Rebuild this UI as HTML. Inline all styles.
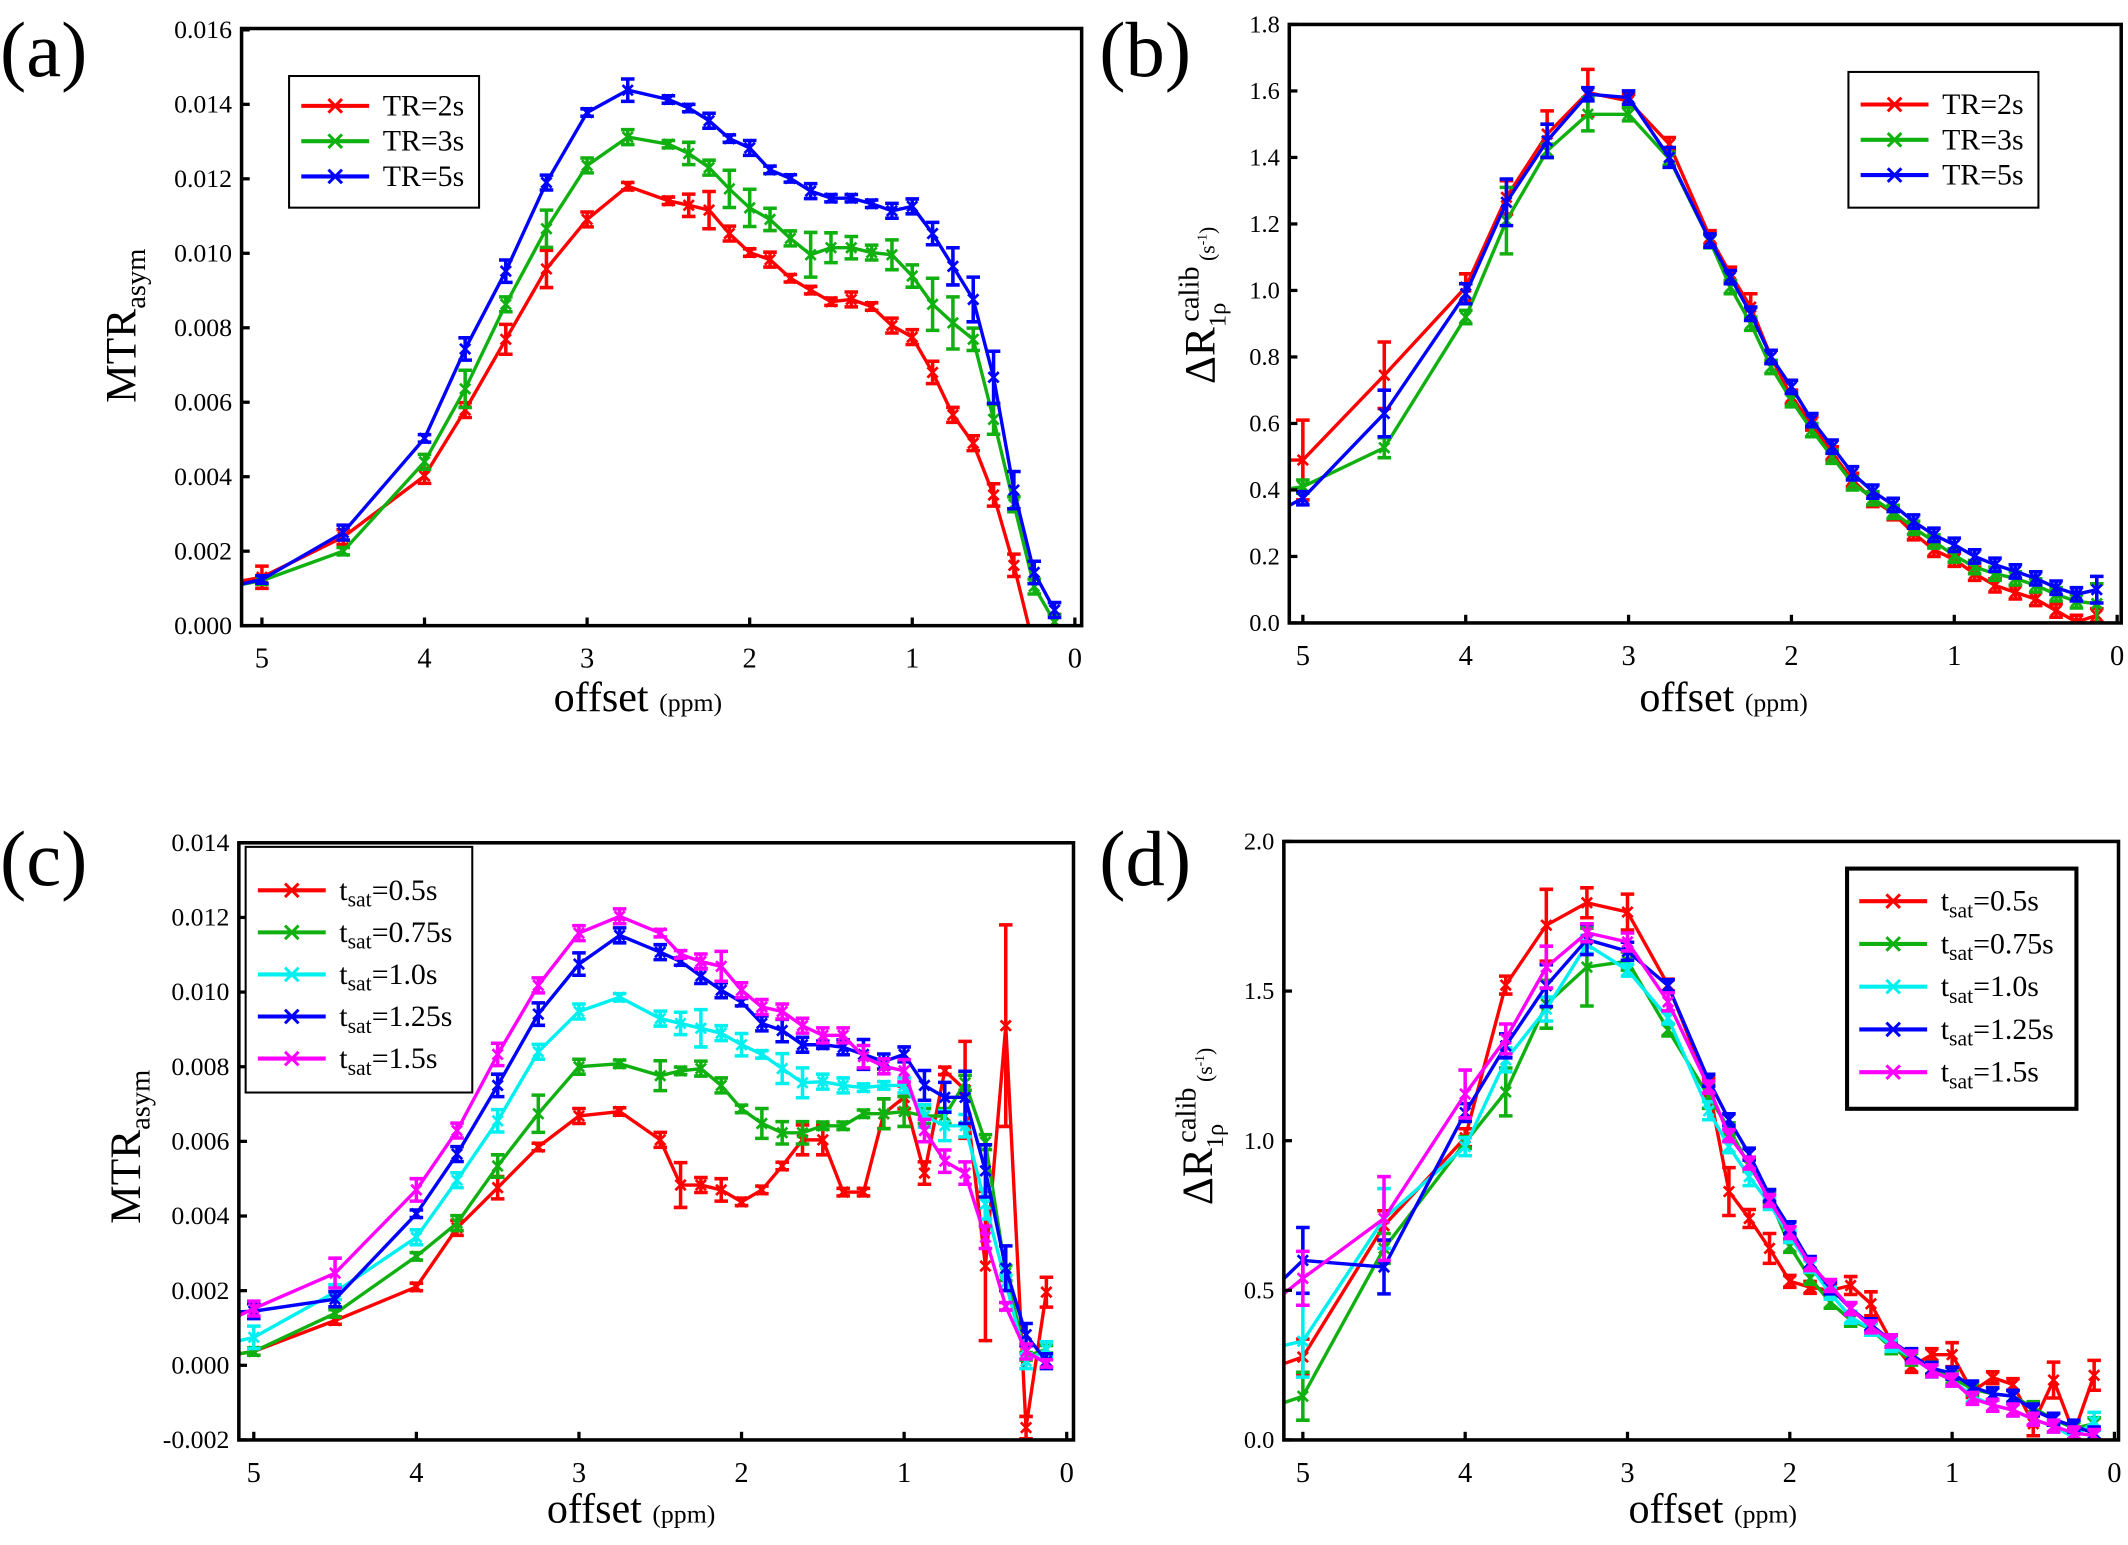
<!DOCTYPE html>
<html><head><meta charset="utf-8"><style>
html,body{margin:0;padding:0;background:#fff}
svg{display:block}
text{font-family:"Liberation Serif","DejaVu Serif",serif;fill:#000}
</style></head><body>
<svg id="fig" width="2128" height="1545" viewBox="0 0 1568 1138.4" xmlns="http://www.w3.org/2000/svg"></svg>
<script>
// ---------- shared data ----------
const offsets = [5.25,5,4.5,4,3.75,3.5,3.25,3,2.75,2.5,2.375,2.25,2.125,2,1.875,1.75,1.625,1.5,1.375,1.25,1.125,1,0.875,0.75,0.625,0.5,0.375,0.25,0.125];
const xTicks = [5,4,3,2,1,0];
const xTickLabels = ["5","4","3","2","1","0"];
// ---------- panel a ----------
const aTicks = [0,0.002,0.004,0.006,0.008,0.010,0.012,0.014,0.016];
const aTickLabels = ["0.000","0.002","0.004","0.006","0.008","0.010","0.012","0.014","0.016"];
const aNames = ["TR=2s","TR=3s","TR=5s"];
const aRed = [0.0011,0.0013,0.00238,0.00402,0.00579,0.00769,0.00958,0.01091,0.0118,0.01141,0.01129,0.01116,0.01053,0.01002,0.00983,0.00933,0.00901,0.0087,0.00876,0.00857,0.00806,0.00775,0.0068,0.00566,0.0049,0.00351,0.00162,-0.0006,0.0001];
const aGreen = [0.001,0.00121,0.002,0.0044,0.00636,0.00863,0.01066,0.01236,0.01312,0.01293,0.01268,0.0123,0.01173,0.01122,0.01091,0.0104,0.00996,0.01015,0.01015,0.01002,0.00996,0.00939,0.00863,0.00813,0.00769,0.00554,0.00326,0.00105,0.0001];
const aBlue = [0.001,0.00124,0.0025,0.00503,0.00743,0.00952,0.0119,0.01378,0.01438,0.01413,0.0139,0.01356,0.01308,0.01283,0.01224,0.01201,0.01167,0.01148,0.01148,0.01133,0.01114,0.01126,0.01053,0.00965,0.00876,0.00667,0.00364,0.00143,0.00042];
const aRedErr = [0,0.0003,0.0002,0.0002,0.0002,0.0004,0.0005,0.0002,0.0001,0.0001,0.0003,0.0005,0.0002,0.0001,0.0002,0.0001,0.0001,0.0001,0.0002,0.0001,0.0002,0.0002,0.0003,0.0002,0.0002,0.0003,0.0003,0.0003,0.0002];
const aGreenErr = [0,0.0001,0.0001,0.0002,0.0005,0.0002,0.0005,0.0002,0.0002,0.0001,0.0003,0.0002,0.0005,0.0005,0.0003,0.0002,0.0006,0.0004,0.0003,0.0002,0.0004,0.0003,0.0007,0.0007,0.0003,0.0004,0.0002,0.0002,0.0002];
const aBlueErr = [0,0.0001,0.0002,0.0001,0.0003,0.0003,0.0002,0.0001,0.0003,0.0001,0.0001,0.0002,0.0001,0.0002,0.0001,0.0001,0.0002,0.0001,0.0001,0.0001,0.0002,0.0002,0.0003,0.0005,0.0006,0.0007,0.0005,0.0003,0.0002];
// ---------- panel b ----------
const bTicks = [0,0.2,0.4,0.6,0.8,1.0,1.2,1.4,1.6,1.8];
const bTickLabels = ["0.0","0.2","0.4","0.6","0.8","1.0","1.2","1.4","1.6","1.8"];
const bNames = ["TR=2s","TR=3s","TR=5s"];
const bRed = [0.49,0.49,0.745,1.01,1.28,1.47,1.595,1.57,1.44,1.16,1.05,0.95,0.80,0.68,0.60,0.51,0.43,0.37,0.33,0.27,0.22,0.19,0.148,0.113,0.092,0.072,0.037,0.003,0.023];
const bGreen = [0.39,0.41,0.527,0.92,1.21,1.42,1.53,1.53,1.396,1.148,1.01,0.90,0.77,0.67,0.58,0.50,0.42,0.375,0.334,0.286,0.245,0.203,0.168,0.148,0.134,0.113,0.086,0.065,0.058];
const bBlue = [0.31,0.375,0.63,0.99,1.265,1.45,1.59,1.58,1.40,1.15,1.04,0.93,0.80,0.71,0.61,0.53,0.45,0.395,0.355,0.305,0.265,0.235,0.2,0.175,0.155,0.134,0.106,0.086,0.1];
const bRedErr = [0,0.12,0.1,0.04,0.05,0.07,0.07,0.02,0.02,0.02,0.02,0.04,0.02,0.02,0.02,0.02,0.02,0.02,0.02,0.02,0.02,0.02,0.02,0.02,0.02,0.02,0.02,0.02,0.02];
const bGreenErr = [0,0.02,0.03,0.02,0.1,0.02,0.05,0.02,0.02,0.02,0.02,0.02,0.02,0.02,0.02,0.02,0.02,0.02,0.02,0.02,0.02,0.02,0.02,0.02,0.02,0.02,0.02,0.02,0.06];
const bBlueErr = [0,0.02,0.07,0.03,0.07,0.05,0.02,0.02,0.03,0.02,0.02,0.02,0.02,0.02,0.02,0.02,0.02,0.02,0.02,0.02,0.02,0.02,0.02,0.02,0.02,0.02,0.02,0.02,0.04];
// ---------- panel c ----------
const cTicks = [-0.002,0,0.002,0.004,0.006,0.008,0.010,0.012,0.014];
const cTickLabels = ["-0.002","0.000","0.002","0.004","0.006","0.008","0.010","0.012","0.014"];
const cNames = ["0.5s","0.75s","1.0s","1.25s","1.5s"];
const cRed = [0.0002,0.00037,0.0012,0.0021,0.00368,0.00476,0.00585,0.00668,0.0068,0.00604,0.00483,0.00483,0.0047,0.00438,0.0047,0.00534,0.00604,0.00604,0.00464,0.00464,0.00674,0.00718,0.00515,0.00789,0.00738,0.00266,0.0091,-0.00167,0.00196];
const cGreen = [0.0002,0.00037,0.00139,0.00292,0.00381,0.00534,0.00674,0.008,0.00808,0.00776,0.00789,0.00795,0.0075,0.00687,0.00648,0.00623,0.00623,0.00642,0.00642,0.00674,0.00674,0.0068,0.00668,0.00668,0.00757,0.00598,0.00247,0.00024,0.00043];
const cCyan = [0.0005,0.00075,0.00196,0.00343,0.00496,0.00655,0.0084,0.00948,0.00986,0.00929,0.00916,0.00903,0.0089,0.00859,0.00833,0.00795,0.00757,0.0076,0.0075,0.00744,0.0075,0.0075,0.00668,0.00642,0.00642,0.00432,0.00222,0.00011,0.00043];
const cBlue = [0.0014,0.00145,0.00177,0.00406,0.00566,0.0075,0.00941,0.01075,0.01152,0.01107,0.01082,0.01043,0.01005,0.00973,0.00916,0.00897,0.00859,0.00859,0.00852,0.00833,0.00814,0.00833,0.0075,0.00718,0.00718,0.00521,0.0026,0.00082,0.00011];
const cMagenta = [0.001,0.00152,0.00247,0.0047,0.00629,0.00833,0.01018,0.01158,0.01203,0.01158,0.01101,0.01082,0.01069,0.01005,0.0096,0.00948,0.0091,0.00884,0.00884,0.00827,0.00801,0.00789,0.00629,0.00547,0.00515,0.00343,0.00158,0.00037,0.00005];
const cRedErr = [0,0.0001,0.0001,0.0001,0.0002,0.0003,0.0001,0.0002,0.0001,0.0002,0.0006,0.0002,0.0003,0.0001,0.0001,0.0001,0.0004,0.0004,0.0001,0.0001,0.0004,0.0003,0.0003,0.0001,0.0013,0.002,0.0027,0.0003,0.0004];
const cGreenErr = [0,0.0001,0.0001,0.0001,0.0002,0.0003,0.0005,0.0002,0.0001,0.0004,0.0001,0.0002,0.0002,0.0001,0.0004,0.0003,0.0003,0.0001,0.0001,0.0001,0.0004,0.0004,0.0002,0.0002,0.0002,0.0002,0.0002,0.0001,0.0001];
const cCyanErr = [0,0.0003,0.0002,0.0002,0.0002,0.0003,0.0002,0.0002,0.0001,0.0002,0.0003,0.0005,0.0002,0.0003,0.0001,0.0004,0.0004,0.0002,0.0002,0.0001,0.0001,0.0002,0.0003,0.0004,0.0003,0.0004,0.0002,0.0002,0.0002];
const cBlueErr = [0,0.0002,0.0002,0.0001,0.0002,0.0003,0.0003,0.0003,0.0002,0.0002,0.0001,0.0002,0.0002,0.0001,0.0002,0.0003,0.0002,0.0001,0.0002,0.0004,0.0002,0.0002,0.0004,0.0004,0.0007,0.0007,0.0006,0.0003,0.0002];
const cMagentaErr = [0,0.0002,0.0004,0.0003,0.0002,0.0003,0.0002,0.0002,0.0002,0.0001,0.0001,0.0002,0.0004,0.0002,0.0002,0.0002,0.0002,0.0002,0.0002,0.0003,0.0002,0.0003,0.0003,0.0003,0.0003,0.0003,0.0001,0.0002,0.0001];
// ---------- panel d ----------
const dTicks = [0,0.5,1.0,1.5,2.0];
const dTickLabels = ["0.0","0.5","1.0","1.5","2.0"];
const dNames = ["0.5s","0.75s","1.0s","1.25s","1.5s"];
const dRed = [0.23,0.277,0.716,1.01,1.52,1.72,1.795,1.764,1.52,1.18,0.83,0.74,0.64,0.53,0.51,0.50,0.516,0.455,0.33,0.246,0.285,0.285,0.162,0.208,0.185,0.054,0.2,0.023,0.216];
const dGreen = [0.10,0.146,0.64,0.994,1.163,1.456,1.58,1.60,1.37,1.148,1.04,0.917,0.81,0.647,0.54,0.46,0.40,0.37,0.308,0.27,0.24,0.208,0.17,0.154,0.146,0.108,0.069,0.039,0.054];
const dCyan = [0.30,0.33,0.74,0.98,1.27,1.44,1.656,1.57,1.41,1.10,0.98,0.88,0.79,0.68,0.58,0.49,0.41,0.37,0.316,0.277,0.23,0.2,0.146,0.116,0.1,0.069,0.046,0.008,0.062];
const dBlue = [0.47,0.60,0.578,1.094,1.317,1.518,1.672,1.633,1.518,1.202,1.07,0.955,0.817,0.709,0.593,0.508,0.439,0.385,0.331,0.285,0.239,0.223,0.177,0.154,0.146,0.1,0.069,0.046,0.023];
const dMagenta = [0.43,0.54,0.74,1.156,1.34,1.58,1.695,1.664,1.464,1.179,1.017,0.925,0.80,0.693,0.586,0.516,0.439,0.378,0.331,0.277,0.231,0.2,0.139,0.116,0.1,0.069,0.046,0.023,0.015];
const dRedErr = [0,0.06,0.05,0.03,0.03,0.12,0.05,0.06,0.02,0.03,0.08,0.03,0.05,0.02,0.02,0.02,0.03,0.04,0.02,0.02,0.02,0.04,0.02,0.02,0.02,0.04,0.06,0.02,0.05];
const dGreenErr = [0,0.08,0.05,0.02,0.08,0.08,0.13,0.03,0.02,0.04,0.02,0.02,0.02,0.02,0.02,0.02,0.02,0.02,0.02,0.02,0.02,0.02,0.02,0.02,0.02,0.02,0.02,0.02,0.02];
const dCyanErr = [0,0.12,0.1,0.03,0.04,0.04,0.03,0.02,0.02,0.03,0.02,0.03,0.02,0.02,0.02,0.02,0.02,0.02,0.02,0.02,0.02,0.02,0.02,0.02,0.02,0.02,0.02,0.02,0.03];
const dBlueErr = [0,0.11,0.09,0.03,0.04,0.07,0.05,0.03,0.02,0.02,0.02,0.02,0.02,0.02,0.02,0.02,0.02,0.02,0.02,0.02,0.02,0.02,0.02,0.02,0.02,0.02,0.02,0.02,0.02];
const dMagentaErr = [0,0.09,0.14,0.08,0.05,0.07,0.03,0.03,0.03,0.02,0.02,0.02,0.02,0.02,0.02,0.02,0.02,0.02,0.02,0.02,0.02,0.02,0.02,0.02,0.02,0.02,0.02,0.02,0.02];

const RED="#ff0000",GREEN="#10b010",CYAN="#00f0f0",BLUE="#0000ff",MAG="#ff00ff";
const NS="http://www.w3.org/2000/svg";
const svg=document.getElementById('fig');
function mk(tag,attrs,parent){const e=document.createElementNS(NS,tag);for(const k in attrs)e.setAttribute(k,attrs[k]);(parent||svg).appendChild(e);return e;}

function panel(cfg){
  const g=mk('g',{});
  
  
  const sx=v=>cfg.x0+(cfg.xv0-v)/(cfg.xv0-cfg.xv1)*(cfg.x1-cfg.x0);
  const sy=v=>cfg.y1-(v-cfg.ymin)/(cfg.ymax-cfg.ymin)*(cfg.y1-cfg.y0);
  const cid='clip-'+cfg.id;
  const defs=mk('defs',{},g);
  const cp=mk('clipPath',{id:cid},defs);
  mk('rect',{x:cfg.L,y:cfg.T,width:cfg.R-cfg.L,height:cfg.B-cfg.T},cp);
  const pl=mk('text',{x:cfg.labX,y:cfg.labY,'font-size':58},g);
  pl.textContent=cfg.label;
  
  
  const sg=mk('g',{'clip-path':'url(#'+cid+')'},g);
  cfg.series.forEach((s,si)=>{
    const ser=mk('g',{},sg);
    
    
    let d='';
    s.vals.forEach((v,i)=>{d+=(i?'L':'M')+sx(offsets[i]).toFixed(1)+','+sy(v).toFixed(1);});
    const ln=mk('path',{d:d,fill:'none',stroke:s.color,'stroke-width':2.5,'stroke-linejoin':'round'},ser);
    
    
    s.vals.forEach((v,i)=>{
      if(offsets[i]>5.1) return;
      const X=sx(offsets[i]),Y=sy(v),e=s.err[i];
      const yt=sy(v+e),yb=sy(v-e),c=5;
      const eb=mk('path',{d:`M${X},${yt}L${X},${yb}M${X-c},${yt}L${X+c},${yt}M${X-c},${yb}L${X+c},${yb}`,stroke:s.color,'stroke-width':2.6,fill:'none'},ser);
      
      
      const m=3.8;
      const mkr=mk('path',{d:`M${X-m},${Y-m}L${X+m},${Y+m}M${X-m},${Y+m}L${X+m},${Y-m}`,stroke:s.color,'stroke-width':2},ser);
      
      
    });
  });
  const fr=mk('rect',{x:cfg.L,y:cfg.T,width:cfg.R-cfg.L,height:cfg.B-cfg.T,fill:'none',stroke:'#000','stroke-width':2.6},g);
  
  
  xTicks.forEach((t,i)=>{
    const X=sx(t);
    if(X<cfg.R-2) mk('line',{x1:X,x2:X,y1:cfg.B,y2:cfg.B-6,stroke:'#000','stroke-width':2.4},g);
    const tx=mk('text',{x:X,y:cfg.B+31,'font-size':21,'text-anchor':'middle'},g);
    tx.textContent=xTickLabels[i];
    
    
  });
  cfg.yTicks.forEach((t,i)=>{
    const Y=sy(t);
    mk('line',{x1:cfg.L,x2:cfg.L+6,y1:Y,y2:Y,stroke:'#000','stroke-width':2.4},g);
    const tx=mk('text',{x:cfg.L-7,y:Y+6,'font-size':cfg.yFont,'text-anchor':'end','font-family':cfg.yFam},g);
    tx.textContent=cfg.yTickLabels[i];
    
    
  });
  const xt=mk('text',{x:cfg.xtX,y:cfg.xtY,'font-size':31,'text-anchor':'middle'},g);
  xt.innerHTML='offset <tspan font-size="19">(ppm)</tspan>';
  
  
  const yt=mk('text',{x:0,y:0,'font-size':32,'text-anchor':'middle',transform:`translate(${cfg.ytX},${cfg.ytY}) rotate(-90)`},g);
  yt.innerHTML=cfg.yTitle;
  
  
  const lg=mk('g',{},g);
  
  
  mk('rect',{x:cfg.lg.x,y:cfg.lg.y,width:cfg.lg.w,height:cfg.lg.h,fill:'#fff',stroke:'#000','stroke-width':cfg.lg.sw},lg);
  cfg.series.forEach((s,i)=>{
    const Y=cfg.lg.fy+i*cfg.lg.dy, X0=cfg.lg.x+9, X1=X0+50, XM=(X0+X1)/2;
    const en=mk('g',{},lg);
    
    
    mk('line',{x1:X0,x2:X1,y1:Y,y2:Y,stroke:s.color,'stroke-width':3},en);
    mk('path',{d:`M${XM-5},${Y-5}L${XM+5},${Y+5}M${XM-5},${Y+5}L${XM+5},${Y-5}`,stroke:s.color,'stroke-width':2.2},en);
    const t=mk('text',{x:X1+10,y:Y+7,'font-size':22},en);
    t.innerHTML=cfg.legendText(i);
  });
}

const tsat=n=>i=>'t<tspan font-size="16" dy="5">sat</tspan><tspan dy="-5">='+n[i]+'</tspan>';
const dR='ΔR<tspan font-size="18" dy="8">1ρ</tspan><tspan font-size="21" dy="-20" dx="-14">calib</tspan><tspan font-size="16" dy="12"> (s</tspan><tspan font-size="10" dy="-6">-1</tspan><tspan font-size="16" dy="6">)</tspan>';

panel({id:'panel-a',label:'(a)',labX:0,labY:56,L:178,R:797,T:21,B:461,x0:193,x1:792,xv0:5,xv1:0,y0:22,y1:461,ymin:0,ymax:0.016,
  yTicks:aTicks,yTickLabels:aTickLabels,yFont:19,yFam:'Liberation Serif',
  xtX:470,xtY:524,ytX:100,ytY:240,
  yTitle:'MTR<tspan font-size="21" dy="7">asym</tspan>',
  lg:{x:213,y:56,w:140,h:97,sw:1.5,fy:78,dy:26},legendText:i=>aNames[i],
  series:[{key:'tr-2s',color:RED,vals:aRed,err:aRedErr},{key:'tr-3s',color:GREEN,vals:aGreen,err:aGreenErr},{key:'tr-5s',color:BLUE,vals:aBlue,err:aBlueErr}]});

panel({id:'panel-b',label:'(b)',labX:810,labY:56,L:950,R:1563,T:18,B:459,x0:960,x1:1560,xv0:5,xv1:0,y0:18,y1:459,ymin:0,ymax:1.8,
  yTicks:bTicks,yTickLabels:bTickLabels,yFont:18,yFam:'DejaVu Serif',
  xtX:1270,xtY:524,ytX:895,ytY:225,
  yTitle:dR,
  lg:{x:1362,y:53,w:140,h:100,sw:1.5,fy:77,dy:26},legendText:i=>bNames[i],
  series:[{key:'tr-2s',color:RED,vals:bRed,err:bRedErr},{key:'tr-3s',color:GREEN,vals:bGreen,err:bGreenErr},{key:'tr-5s',color:BLUE,vals:bBlue,err:bBlueErr}]});

panel({id:'panel-c',label:'(c)',labX:0,labY:652,L:176,R:791,T:621,B:1061,x0:187,x1:786,xv0:5,xv1:0,y0:621,y1:1061,ymin:-0.002,ymax:0.014,
  yTicks:cTicks,yTickLabels:cTickLabels,yFont:19,yFam:'Liberation Serif',
  xtX:465,xtY:1122,ytX:103,ytY:845,
  yTitle:'MTR<tspan font-size="21" dy="7">asym</tspan>',
  lg:{x:181,y:624,w:167,h:181,sw:1.5,fy:656,dy:31},legendText:tsat(cNames),
  series:[{key:'tsat-0.5s',color:RED,vals:cRed,err:cRedErr},{key:'tsat-0.75s',color:GREEN,vals:cGreen,err:cGreenErr},{key:'tsat-1.0s',color:CYAN,vals:cCyan,err:cCyanErr},{key:'tsat-1.25s',color:BLUE,vals:cBlue,err:cBlueErr},{key:'tsat-1.5s',color:MAG,vals:cMagenta,err:cMagentaErr}]});

panel({id:'panel-d',label:'(d)',labX:810,labY:652,L:946,R:1561,T:620,B:1061,x0:960,x1:1558,xv0:5,xv1:0,y0:620,y1:1061,ymin:0,ymax:2.0,
  yTicks:dTicks,yTickLabels:dTickLabels,yFont:18,yFam:'DejaVu Serif',
  xtX:1262,xtY:1122,ytX:893,ytY:830,
  yTitle:dR,
  lg:{x:1361,y:640,w:169,h:177,sw:3,fy:664,dy:31.5},legendText:tsat(dNames),
  series:[{key:'tsat-0.5s',color:RED,vals:dRed,err:dRedErr},{key:'tsat-0.75s',color:GREEN,vals:dGreen,err:dGreenErr},{key:'tsat-1.0s',color:CYAN,vals:dCyan,err:dCyanErr},{key:'tsat-1.25s',color:BLUE,vals:dBlue,err:dBlueErr},{key:'tsat-1.5s',color:MAG,vals:dMagenta,err:dMagentaErr}]});
</script>
</body></html>
